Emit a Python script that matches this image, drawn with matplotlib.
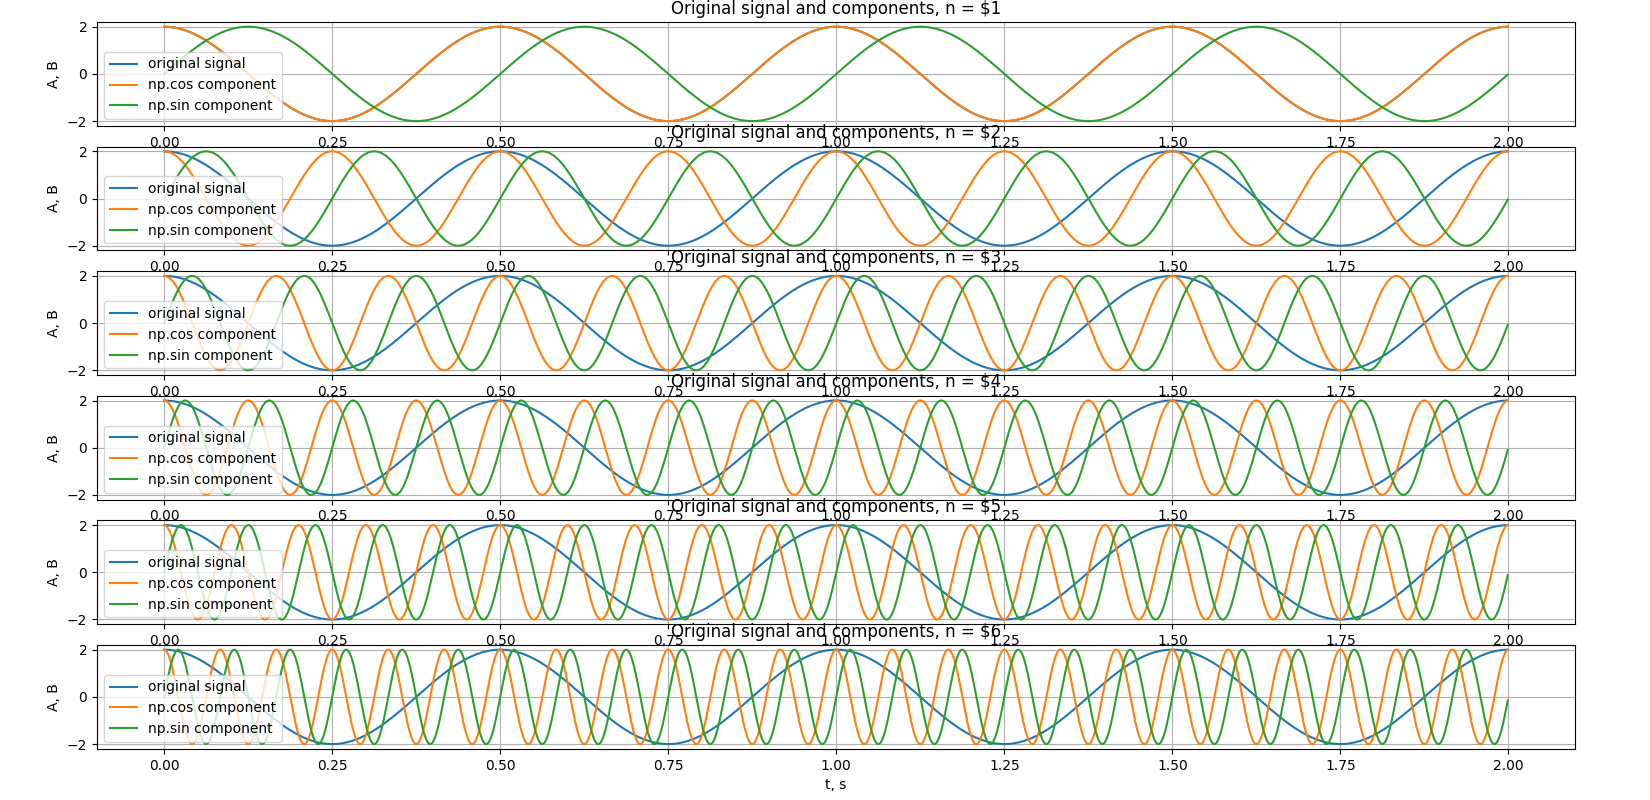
import numpy as np
import matplotlib
matplotlib.use("Agg")
import matplotlib.pyplot as plt

# signal parameters
amplitude = 2.0          # A, B
base_freq = 2.0          # Hz, original signal period 0.5 s
harmonics = [1, 2, 3, 4, 5, 6]
t_start, t_stop, dt = 0.0, 2.0, 0.001

t = np.arange(t_start, t_stop, dt)
original = amplitude * np.cos(2 * np.pi * base_freq * t)

fig, axes = plt.subplots(len(harmonics), 1, figsize=(16.5, 8), dpi=100)
fig.subplots_adjust(left=0.0588, right=0.9545, top=0.9725, bottom=0.064, hspace=0.2)

for ax, n in zip(axes, harmonics):
    f = base_freq * n
    ax.plot(t, original, label="original signal")
    ax.plot(t, amplitude * np.cos(2 * np.pi * f * t), label="np.cos component")
    ax.plot(t, amplitude * np.sin(2 * np.pi * f * t), label="np.sin component")
    ax.set_title("Original signal and components, n = $" + str(n))
    ax.set_ylabel("A, B")
    ax.legend(loc="lower left")
    ax.grid(True)

axes[-1].set_xlabel("t, s")
fig.savefig("out.png")
